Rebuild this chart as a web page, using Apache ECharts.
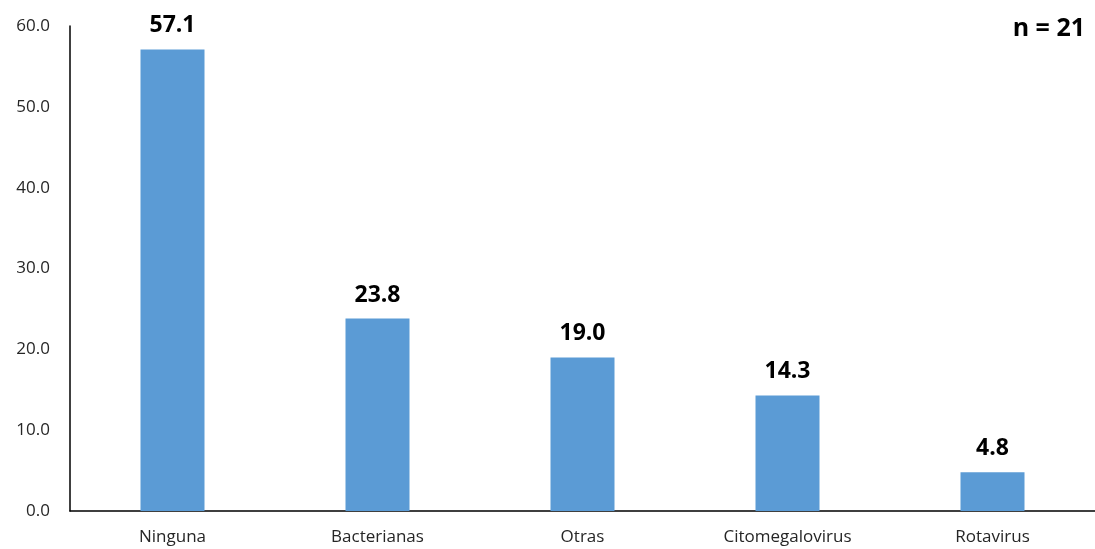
<!DOCTYPE html>
<html>
<head>
<meta charset="utf-8">
<script src="https://cdn.jsdelivr.net/npm/echarts@6/dist/echarts.min.js"></script>
<style>
  html, body { margin: 0; padding: 0; background: #fff; }
  #chart { width: 1095px; height: 549px; }
</style>
</head>
<body>
<div id="chart"></div>
<script>
// Infection types (percent of cases)
const categories = ['Ninguna', 'Bacterianas', 'Otras', 'Citomegalovirus', 'Rotavirus'];
const percentages = [57.1, 23.8, 19.0, 14.3, 4.8];
const sampleLabel = 'n = 21';

const fontFamily = '"Open Sans", "Noto Sans", sans-serif';
const chart = echarts.init(document.getElementById('chart'));

chart.setOption({
  animation: false,
  textStyle: { fontFamily: fontFamily },
  graphic: [{
    type: 'text',
    right: 10,
    top: 16,
    style: {
      text: sampleLabel,
      font: 'bold 25px ' + fontFamily,
      fill: '#000'
    }
  }],
  grid: { left: 70, right: 0, top: 26, bottom: 38, containLabel: false },
  xAxis: {
    type: 'category',
    data: categories,
    axisLine: { lineStyle: { color: '#000', width: 1.5 } },
    axisTick: { show: false },
    axisLabel: { color: '#262626', fontSize: 17, margin: 18, fontFamily: fontFamily }
  },
  yAxis: {
    type: 'value',
    min: 0,
    max: 60,
    interval: 10,
    axisLine: { show: true, lineStyle: { color: '#000', width: 1.5 } },
    axisTick: { show: false },
    splitLine: { show: false },
    axisLabel: {
      color: '#262626',
      fontSize: 17,
      margin: 20,
      fontFamily: fontFamily,
      formatter: v => v.toFixed(1)
    }
  },
  series: [{
    type: 'bar',
    data: percentages,
    barWidth: 64,
    itemStyle: { color: '#5B9BD5' },
    label: {
      show: true,
      position: 'top',
      distance: 12,
      color: '#000',
      fontSize: 23,
      fontWeight: 'bold',
      fontFamily: fontFamily,
      formatter: p => p.value.toFixed(1)
    }
  }]
});
</script>
</body>
</html>
